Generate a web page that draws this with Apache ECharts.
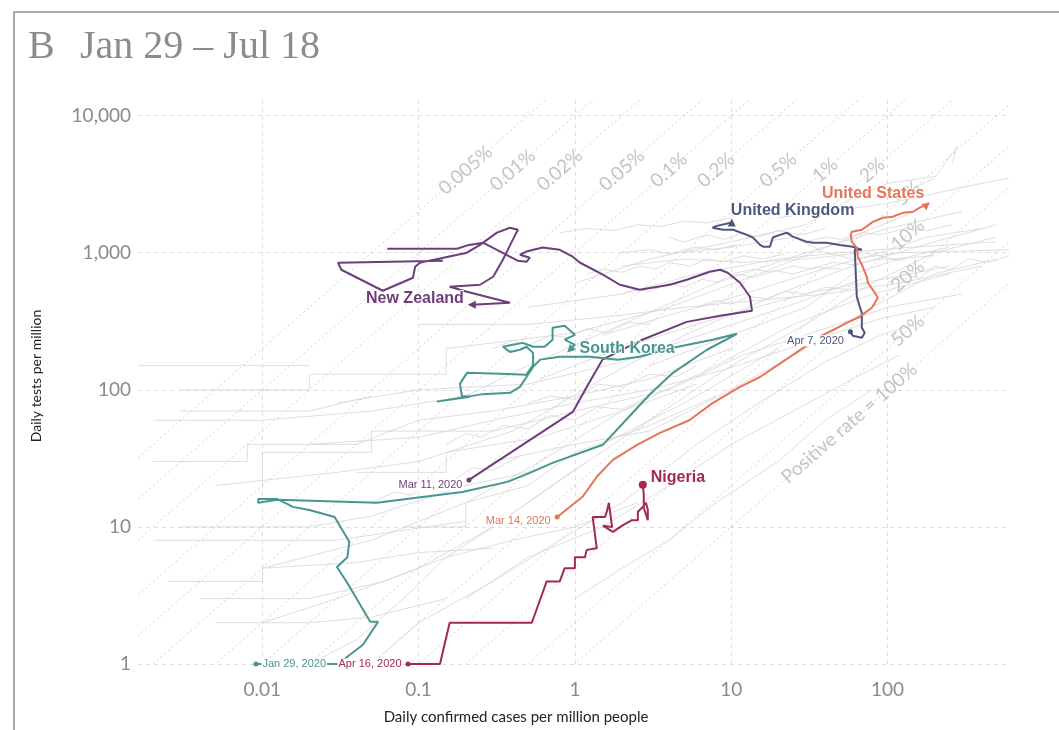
<!DOCTYPE html>
<html>
<head>
<meta charset="utf-8">
<title>Daily tests vs daily confirmed cases</title>
<script src="https://cdn.jsdelivr.net/npm/echarts@6/dist/echarts.min.js"></script>
<style>
  html, body { margin: 0; padding: 0; background: #fff; }
  #chart { width: 1059px; height: 730px; }
</style>
</head>
<body>
<div id="chart"></div>
<script>
// axis extents and tick labels
const X_MIN = 0.0016, X_MAX = 600;
const Y_MIN = 1, Y_MAX = 13000;
const xTicks = [0.01, 0.1, 1, 10, 100];
const xTickLabels = ['0.01', '0.1', '1', '10', '100'];
const yTicks = [1, 10, 100, 1000, 10000];
const yTickLabels = ['1', '10', '100', '1,000', '10,000'];

// positive rate reference lines
const rates = [0.00005, 0.0001, 0.0002, 0.0005, 0.001, 0.002, 0.005, 0.01, 0.02, 0.05, 0.1, 0.2, 0.5, 1];
const rateLabels = ['0.005%', '0.01%', '0.02%', '0.05%', '0.1%', '0.2%', '0.5%', '1%', '2%', '5%', '10%', '20%', '50%', 'Positive rate = 100%'];

// [daily confirmed cases per million, daily tests per million]
const newZealand = [[0.21,22],[0.97,69],[1.19,105],[1.5,166],[2.7,232],[5.2,313],[8.5,347],[13.6,377],[13.2,477],[11.4,604],[9.5,714],[8.5,751],[7.3,727],[5.2,635],[4.05,584],[2.6,537],[1.94,584],[1.51,691],[1.08,845],[0.97,935],[0.8,1050],[0.62,1090],[0.49,1020],[0.445,967],[0.515,920],[0.49,859],[0.43,874],[0.26,1180],[0.21,1140],[0.176,1070],[0.063,1070],'-',[0.143,874],[0.0305,845],[0.032,751],[0.059,528],[0.092,657],[0.095,790],[0.102,845],[0.204,1000],[0.247,1140],[0.317,1400],[0.384,1520],[0.432,1470],[0.40,1240],[0.346,889],[0.30,668],[0.247,584],[0.158,565],[0.204,519],[0.384,431],[0.219,417]];
const southKorea = [[0.0091,1],[0.0305,1],[0.044,1.38],[0.055,2.03],[0.049,2.03],[0.035,3.9],[0.030,5.1],[0.035,6.0],[0.036,7.8],[0.029,11.8],[0.020,13.3],[0.0157,14],[0.0124,16],[0.0094,16],[0.0094,15],[0.0124,15.8],[0.054,15],[0.19,18],[0.37,21.3],[0.515,24.8],[0.72,29.3],[1.51,39.7],[2.03,57],[3.0,92],[4.24,133],[7.0,196],[10.9,256],[7.6,232],[4.24,203],[2.6,174],[1.88,166],[1.25,174],[0.80,174],[0.60,166],[0.54,147],[0.49,124],[0.445,105],[0.384,95],[0.258,93],[0.131,82],[0.213,89],[0.189,90],[0.184,111],[0.204,133],[0.33,131],[0.49,129],[0.54,152],[0.54,186],[0.49,206],[0.445,196],[0.384,189],[0.346,206],[0.40,213],[0.465,220],[0.54,206],[0.64,206],[0.72,232],[0.72,284],[0.86,293],[1.0,252],[0.86,232],[1.0,213],[0.93,196]];
const unitedKingdom = [[58,265],[60,248],[68.6,240],[71.6,261],[68.6,284],[68.6,365],[66.6,403],[63.7,477],[61.8,1050],[68.6,1050],[60,1106],[49.6,1140],[40.9,1180],[33.3,1180],[30.5,1200],[24.8,1310],[22.7,1400],[20.5,1350],[18.5,1290],[17.7,1106],[16,1106],[15.3,1140],[13.8,1290],[12.6,1350],[10.3,1470],[8.85,1470],[7.6,1520],[8.1,1570],[10.1,1660]];
const unitedStates = [[0.77,11.8],[1.12,16.6],[1.38,23.2],[1.75,30.8],[2.5,39.7],[3.5,48.5],[5.4,60],[7.6,80],[11.4,105],[15.3,124],[23.8,174],[36.9,244],[55,308],[66.6,341],[79.4,397],[86.9,470],[83,511],[75,604],[73.8,668],[68.6,817],[64.7,935],[63.7,1090],[59.2,1200],[58.3,1350],[59.2,1420],[68.6,1470],[80.7,1680],[93.5,1800],[108,1830],[126,1960],[146,1990],[161,2130],[179,2240]];
const nigeria = [[0.0855,1],[0.137,1],[0.158,2],[0.53,2],[0.66,4],[0.80,4],[0.86,5],[1.0,5],[1.0,6],[1.16,6],[1.19,6.8],[1.38,7],[1.30,11.8],[1.56,11.8],[1.6,12.9],[1.65,15],[1.73,10],[1.51,10.2],[1.75,9.2],[2.03,10.3],[2.32,11.2],[2.53,11.2],[2.53,12.9],[2.72,14],[2.85,15],[2.93,13.3],[2.93,11.2],[2.76,13.8],[2.76,17.1],[2.72,20.3]];

// all other countries (grey background trajectories)
const otherCountries = [
  [[0.002,60],[0.01,60],[0.05,70],[0.2,90],[0.5,150],[2,300],[8,600],[30,1000],[100,1500],[300,2000]],
  [[0.005,20],[0.03,25],[0.1,30],[0.4,50],[1.5,120],[5,250],[20,500],[60,800],[200,1200],[500,1600]],
  [[0.01,5],[0.05,8],[0.2,15],[0.6,30],[2,70],[8,150],[25,300],[80,500],[250,700]],
  [[0.003,100],[0.02,100],[0.02,130],[0.15,130],[0.15,200],[1,260],[4,400],[15,700],[50,1200],[150,2000]],
  [[0.05,1],[0.1,2],[0.3,4],[0.8,8],[2,15],[6,40],[15,80],[40,160],[90,250],[150,300]],
  [[0.2,3],[0.5,6],[1.5,10],[4,20],[10,40],[25,70],[60,120],[120,180]],
  [[0.01,2],[0.03,3],[0.1,5],[0.3,10],[0.8,22],[3,60],[10,150],[30,300],[80,600],[200,1000],[500,1300]],
  [[1,600],[3,900],[10,1200],[30,1600],[60,2500],[100,3200],[200,3600]],
  [[0.5,400],[2,500],[6,700],[20,900],[50,1000],[150,1100],[500,1200]],
  [[0.1,300],[0.5,300],[2,350],[5,400],[15,450],[40,500],[120,600],[400,800]],
  [[0.002,30],[0.008,30],[0.008,40],[0.04,40],[0.1,60],[0.3,70],[1,90],[3,120],[10,200]],
  [[0.003,10],[0.02,10],[0.05,12],[0.2,20],[0.5,25],[1.5,40],[5,80],[20,200]],
  [[0.02,1],[0.04,1.5],[0.08,3],[0.15,6],[0.3,10],[0.5,15],[1.2,30]],
  [[0.004,3],[0.02,3],[0.06,4],[0.15,6],[0.4,8],[1,10],[2.5,15]],
  [[0.3,30],[1,40],[3,50],[10,100],[30,200],[80,400],[200,700],[500,900]],
  [[3,150],[10,250],[30,400],[60,700],[120,900],[250,1100]],
  [[0.08,10],[0.2,10],[0.2,15],[0.5,20],[1,35],[3,55],[8,90]],
  [[150,3000],[200,3500],[250,5000],[280,6000],[260,4500]],
  [[20,1800],[40,2000],[80,2200],[150,2500],[300,3000],[600,3500]],
  [[5,1000],[10,1100],[25,1300],[40,1000],[60,900],[120,1000],[600,1050]],
  [[0.0016,150],[0.02,150]],
  [[0.03,80],[0.1,100],[0.5,110],[2,160],[7,260],[25,420],[70,650]],
  [[1,3],[2,5],[4,8],[8,15],[20,30],[40,60],[80,100]],
  [[0.01,20],[0.01,35],[0.05,35],[0.05,50],[0.3,50],[1,70],[4,100],[12,180],[40,280],[100,400],[300,500]],
  [[2,800],[5,900],[12,850],[30,900],[70,1000],[110,900],[200,950]],
  [[1.5,250],[4,350],[9,450],[20,600],[45,800],[90,1000],[180,1300],[400,1500]],
  [[0.6,120],[1.5,180],[4,260],[12,380],[35,520],[100,650],[250,800]],
  [[0.02,40],[0.1,45],[0.3,60],[1,80],[3,100],[9,140],[30,220],[90,330],[200,400]],
  [[0.003,70],[0.006,70],[0.02,70],[0.05,90]],
  [[0.04,25],[0.15,25],[0.15,35],[0.6,45],[2,70],[6,110]],
  [[0.002,8],[0.008,8],[0.03,8],[0.06,9],[0.2,11]],
  [[0.005,2],[0.02,2],[0.05,2.2],[0.15,3]],
  [[0.0025,4],[0.01,4],[0.01,5],[0.04,5.5],[0.1,6.5],[0.3,7]],
  [[1.2,700],[1.5,760],[2,720],[2.6,800],[3.3,760],[4,850],[5.5,800],[7,900],[9,860],[12,950],[16,900],[22,980]],
  [[2,500],[2.4,540],[3,520],[4,600],[5,560],[6.5,640],[8,610],[11,700],[14,660],[19,740],[25,700],[35,780],[50,760]],
  [[4,1300],[5,1200],[7,1350],[9,1250],[12,1400],[15,1300],[20,1450],[28,1350],[40,1500]],
  [[6,400],[8,450],[10,420],[13,480],[17,460],[22,520],[30,500],[40,560],[55,540],[75,600]],
  [[0.8,1400],[1.2,1500],[1.8,1450],[2.5,1600],[3.5,1550],[5,1700],[7,1650],[10,1800]],
  [[10,700],[14,760],[18,720],[25,800],[32,760],[45,850],[60,820],[90,900],[130,880]],
  [[0.3,200],[0.4,230],[0.5,210],[0.7,250],[0.9,240],[1.2,280],[1.6,260],[2.2,310],[3,300]],
  [[0.15,40],[0.2,48],[0.25,45],[0.35,55],[0.5,52],[0.7,65],[1,60],[1.4,75],[2,72],[3,90]],
  [[0.05,15],[0.07,18],[0.09,17],[0.12,22],[0.16,21],[0.22,27],[0.3,26],[0.45,33]],
  [[30,1200],[40,1300],[50,1250],[70,1400],[90,1350],[130,1500],[180,1450],[260,1600]],
  [[100,600],[130,700],[160,650],[200,800],[250,750],[330,900],[450,850],[600,950]],
  [[2,1000],[3,1050],[4,980],[6,1100],[8,1050],[11,1150]],
  [[0.5,80],[0.7,90],[1,85],[1.4,110],[2,105],[3,130],[4.5,125],[6,150]]
];

const countries = [
  { name: 'New Zealand', data: newZealand, color: '#6e3d7c', start: 'Mar 11, 2020',
    startPos: 'left', startOffset: [0, 5], endSymbol: 'triangle', endRotate: 90,
    endPos: 'left', endOffset: [0, -6] },
  { name: 'South Korea', data: southKorea, color: '#47968f', start: 'Jan 29, 2020',
    startPos: 'right', startOffset: [0, 0], endSymbol: 'triangle', endRotate: 135,
    endPos: 'right', endOffset: [0, -1] },
  { name: 'United Kingdom', data: unitedKingdom, color: '#4c5680', start: 'Apr 7, 2020',
    startPos: 'left', startOffset: [0, 9], endSymbol: 'triangle', endRotate: 0,
    endPos: 'right', endOffset: [-9, -12] },
  { name: 'United States', data: unitedStates, color: '#e8735a', start: 'Mar 14, 2020',
    startPos: 'left', startOffset: [0, 4], endSymbol: 'triangle', endRotate: -50,
    endPos: 'left', endOffset: [7, -11] },
  { name: 'Nigeria', data: nigeria, color: '#a3285a', start: 'Apr 16, 2020',
    startPos: 'left', startOffset: [0, 0], endSymbol: 'circle', endRotate: 0,
    endPos: 'right', endOffset: [0, -7] }
];

function tickFormatter(ticks, labels) {
  return function (v) {
    for (let i = 0; i < ticks.length; i++) {
      if (Math.abs(Math.log10(v) - Math.log10(ticks[i])) < 1e-6) return labels[i];
    }
    return '';
  };
}

// where each rate label sits along its line
function rateLabelPoint(r) {
  if (r <= 0.02) return [4000 * r, 4000];
  if (r < 1) return [135, 135 / r];
  return [57, 57];
}

const series = [];

otherCountries.forEach(d => {
  series.push({
    type: 'line', data: d, symbol: 'none', silent: true, z: 1,
    lineStyle: { color: '#d6d6d6', width: 0.8 }
  });
});

rates.forEach(r => {
  series.push({
    type: 'line', data: [[X_MIN, X_MIN / r], [X_MAX, X_MAX / r]], symbol: 'none', silent: true, z: 2,
    lineStyle: { color: '#cfcfcf', width: 1, type: [2, 3] }
  });
});

series.push({
  type: 'scatter', silent: true, z: 3, symbolSize: 1,
  itemStyle: { color: 'rgba(0,0,0,0)', opacity: 1 },
  data: rates.map((r, i) => ({ value: rateLabelPoint(r), name: rateLabels[i] })),
  label: {
    show: true, position: 'inside', formatter: '{b}', rotate: 41,
    color: '#c4c4c4', fontSize: 19, fontFamily: 'Lato'
  }
});

countries.forEach(c => {
  series.push({
    type: 'line', name: c.name, data: c.data, symbol: 'none', z: 5, connectNulls: false,
    lineStyle: { color: c.color, width: 2 }
  });
  const first = c.data[0];
  const last = c.data[c.data.length - 1];
  series.push({
    type: 'scatter', z: 6, silent: true,
    itemStyle: { color: c.color, opacity: 1 },
    data: [
      {
        value: first, symbol: 'circle', symbolSize: 5,
        label: {
          show: true, formatter: c.start, position: c.startPos, offset: c.startOffset, distance: 3,
          color: c.color, fontSize: 11, fontFamily: 'Liberation Sans',
          backgroundColor: '#fff', padding: [0, 1]
        }
      },
      {
        value: last, symbol: c.endSymbol, symbolSize: 8, symbolRotate: c.endRotate,
        label: {
          show: true, formatter: c.name, position: c.endPos, offset: c.endOffset, distance: 4,
          color: c.color, fontSize: 16, fontWeight: 'bold', fontFamily: 'Liberation Sans',
          textBorderColor: 'rgba(255,255,255,0.9)', textBorderWidth: 2
        }
      }
    ]
  });
});

const chart = echarts.init(document.getElementById('chart'));
chart.setOption({
  animation: false,
  backgroundColor: '#fff',
  grid: { left: 138, right: 50, top: 100, bottom: 66 },
  xAxis: {
    type: 'log', logBase: 10, min: X_MIN, max: X_MAX,
    axisLine: { show: false }, axisTick: { show: false },
    splitLine: { show: true, showMinLine: false, showMaxLine: false, lineStyle: { color: '#dddddd', type: [4, 4] } },
    axisLabel: { formatter: tickFormatter(xTicks, xTickLabels), color: '#8a8a8a', fontSize: 19, fontFamily: 'Lato', margin: 16 }
  },
  yAxis: {
    type: 'log', logBase: 10, min: Y_MIN, max: Y_MAX,
    axisLine: { show: false }, axisTick: { show: false },
    splitLine: { show: true, showMaxLine: false, lineStyle: { color: '#dddddd', type: [4, 4] } },
    axisLabel: { formatter: tickFormatter(yTicks, yTickLabels), color: '#8a8a8a', fontSize: 19, fontFamily: 'Lato', margin: 7 }
  },
  graphic: [
    { type: 'rect', shape: { x: 14, y: 12, width: 1100, height: 800 }, style: { fill: 'none', stroke: '#a9a9a9', lineWidth: 2 }, z: 0, silent: true },
    { type: 'text', left: 28, top: 27, style: { text: 'B', font: '40px "Liberation Serif"', fill: '#8c8c8c' } },
    { type: 'text', left: 80, top: 27, style: { text: 'Jan 29 – Jul 18', font: '40px "Liberation Serif"', fill: '#8c8c8c' } },
    { type: 'text', x: 516, y: 717, style: { text: 'Daily confirmed cases per million people', font: '15px Lato', fill: '#222', align: 'center', verticalAlign: 'middle' } },
    { type: 'text', x: 36, y: 376, rotation: Math.PI / 2, style: { text: 'Daily tests per million', font: '14px Lato', fill: '#222', align: 'center', verticalAlign: 'middle' } }
  ],
  series: series
});
</script>
</body>
</html>
